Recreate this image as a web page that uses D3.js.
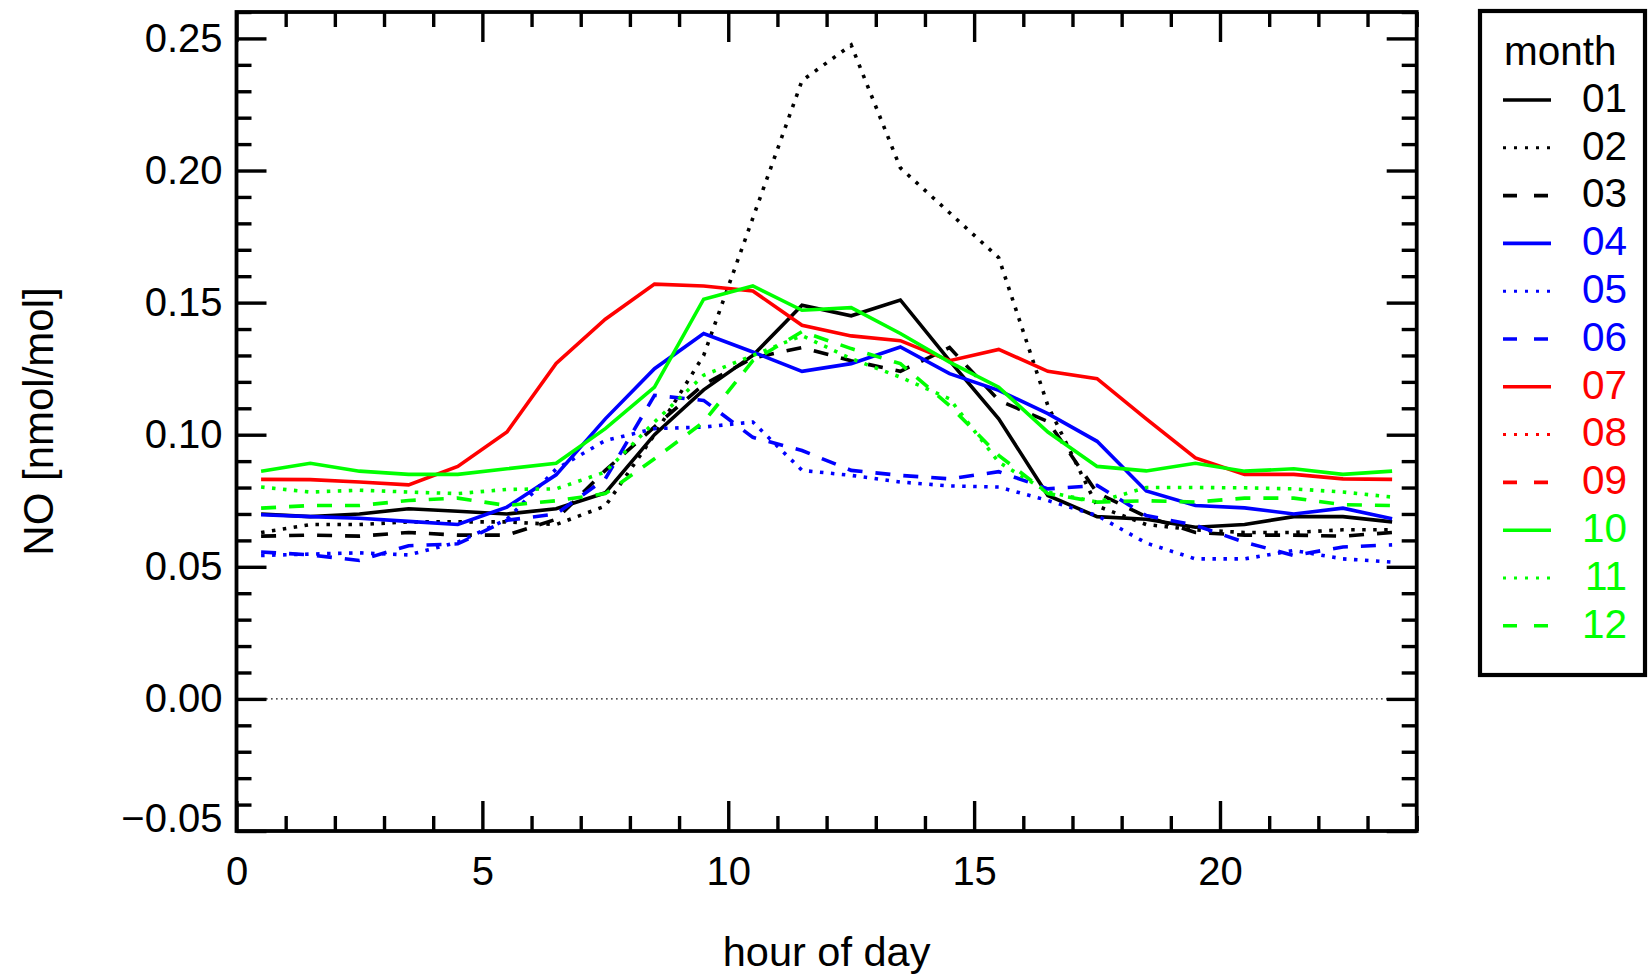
<!DOCTYPE html>
<html>
<head>
<meta charset="utf-8">
<script src="https://cdn.jsdelivr.net/npm/d3@7"></script>
<style>
  html, body { margin: 0; padding: 0; background: #fff; }
  svg { display: block; }
  text { font-family: "Liberation Sans", Arial, Helvetica, sans-serif; }
</style>
</head>
<body>
<svg id="chart" width="1648" height="976"></svg>
<script>
// ---------------- data ----------------
const hours = [0.5,1.5,2.5,3.5,4.5,5.5,6.5,7.5,8.5,9.5,10.5,11.5,12.5,13.5,14.5,15.5,16.5,17.5,18.5,19.5,20.5,21.5,22.5,23.5];

const months = ["01","02","03","04","05","06","07","08","09","10","11","12"];
const monthColors = ["#000000","#000000","#000000","#0000ff","#0000ff","#0000ff","#ff0000","#ff0000","#ff0000","#00ff00","#00ff00","#00ff00"];
const monthStyles = ["solid","dotted","dashed","solid","dotted","dashed","solid","dotted","dashed","solid","dotted","dashed"];

const m01 = [0.070,0.069,0.070,0.072,0.071,0.070,0.072,0.078,0.100,0.117,0.130,0.149,0.145,0.151,0.128,0.106,0.077,0.069,0.068,0.065,0.066,0.069,0.069,0.067];
const m02 = [0.063,0.066,0.066,0.067,0.067,0.067,0.066,0.073,0.100,0.130,0.182,0.234,0.2475,0.201,0.184,0.167,0.111,0.073,0.066,0.064,0.063,0.063,0.064,0.064];
const m03 = [0.0616,0.062,0.0616,0.063,0.062,0.062,0.068,0.0865,0.103,0.119,0.129,0.133,0.128,0.124,0.133,0.113,0.105,0.078,0.069,0.063,0.062,0.062,0.0616,0.063];
const m04 = [0.0697,0.069,0.0684,0.0672,0.066,0.0726,0.0848,0.106,0.125,0.1383,0.1313,0.124,0.1269,0.1332,0.1231,0.1168,0.108,0.0975,0.0787,0.0732,0.0723,0.070,0.0722,0.0682];
const m05 = [0.0543,0.0548,0.0553,0.0545,0.0593,0.068,0.087,0.0978,0.1023,0.1029,0.1048,0.0865,0.0846,0.0821,0.0806,0.0802,0.0751,0.0694,0.059,0.053,0.053,0.0562,0.053,0.0518];
const m06 = [0.0556,0.0545,0.0524,0.058,0.0587,0.0676,0.070,0.0833,0.1149,0.113,0.099,0.094,0.0865,0.0846,0.0833,0.086,0.0795,0.0808,0.0694,0.0657,0.0593,0.0543,0.0575,0.0583];
const m07 = [0.0831,0.083,0.0821,0.081,0.088,0.101,0.127,0.1437,0.157,0.1563,0.1544,0.1414,0.1374,0.1356,0.128,0.1323,0.124,0.1212,0.106,0.0912,0.085,0.085,0.0833,0.0831];
const m08 = [];
const m09 = [];
const m10 = [0.0862,0.0892,0.0862,0.085,0.085,0.0871,0.0892,0.1023,0.118,0.1513,0.1563,0.1471,0.1481,0.1383,0.1275,0.118,0.101,0.088,0.0863,0.0892,0.0862,0.0871,0.085,0.0862];
const m11 = [0.0802,0.0783,0.079,0.0783,0.0777,0.0793,0.0795,0.0859,0.1048,0.1225,0.130,0.1375,0.1288,0.1218,0.1136,0.0896,0.0783,0.0745,0.080,0.080,0.0799,0.0795,0.0783,0.0764];
const m12 = [0.0722,0.0732,0.0732,0.0751,0.076,0.0732,0.075,0.0777,0.0909,0.1048,0.128,0.139,0.1326,0.1269,0.111,0.0922,0.0777,0.0745,0.075,0.0745,0.076,0.076,0.0735,0.0732];

const xMajorTicks = [0,5,10,15,20];
const yMajorTicks = [-0.05,0.00,0.05,0.10,0.15,0.20,0.25];
const xTitle = "hour of day";
const yTitle = "NO [nmol/mol]";
const legendTitle = "month";

const series = [m01,m02,m03,m04,m05,m06,m07,m08,m09,m10,m11,m12];

// ---------------- layout ----------------
const svg = d3.select("#chart");
const L = 236.5, R = 1416.7, T = 12, B = 831;
const x = d3.scaleLinear().domain([0, 24]).range([L, R]);
const y = d3.scaleLinear().domain([-0.05, 0.26]).range([B, T]);

const xMinor = d3.range(0, 25, 1).filter(v => !xMajorTicks.includes(v));
const yMinor = d3.range(-50, 261, 10).map(v => v / 1000).filter(v => !yMajorTicks.some(t => Math.abs(t - v) < 1e-9));

const dashFor = s => s === "dotted" ? "3.5,7.5" : (s === "dashed" ? "15,13" : null);

// zero reference line
svg.append("path")
  .datum([hours[0], hours[hours.length - 1]])
  .attr("d", d => d3.line()(d.map(h => [x(h), y(0)])))
  .attr("stroke", "#000").attr("stroke-width", 1.3)
  .attr("stroke-dasharray", "1.5,3.5").attr("fill", "none");

// series lines
const line = d3.line().x((d, i) => x(hours[i])).y(d => y(d));
series.forEach((vals, i) => {
  if (!vals.length) return;
  svg.append("path")
    .datum(vals)
    .attr("d", line)
    .attr("fill", "none")
    .attr("stroke", monthColors[i])
    .attr("stroke-width", 3.6)
    .attr("stroke-linejoin", "miter")
    .attr("stroke-dasharray", dashFor(monthStyles[i]));
});

// axes
function styleAxis(g) {
  g.select(".domain").remove();
  g.selectAll(".tick line").attr("stroke", "#000").attr("stroke-width", 3.4);
  g.selectAll("text").attr("font-size", 40).attr("fill", "#000")
    .attr("font-family", "'Liberation Sans', Arial, sans-serif");
}

// bottom
svg.append("g").attr("transform", `translate(0,${B})`)
  .call(d3.axisBottom(x).tickValues(xMajorTicks).tickSize(-30).tickSizeOuter(0).tickPadding(26).tickFormat(d3.format("d")))
  .call(styleAxis);
svg.append("g").attr("transform", `translate(0,${B})`)
  .call(d3.axisBottom(x).tickValues(xMinor).tickSize(-15).tickSizeOuter(0).tickFormat(""))
  .call(styleAxis);
// top
svg.append("g").attr("transform", `translate(0,${T})`)
  .call(d3.axisTop(x).tickValues(xMajorTicks).tickSize(-30).tickSizeOuter(0).tickFormat(""))
  .call(styleAxis);
svg.append("g").attr("transform", `translate(0,${T})`)
  .call(d3.axisTop(x).tickValues(xMinor).tickSize(-15).tickSizeOuter(0).tickFormat(""))
  .call(styleAxis);
// left
const leftG = svg.append("g").attr("transform", `translate(${L},0)`)
  .call(d3.axisLeft(y).tickValues(yMajorTicks).tickSize(-30).tickSizeOuter(0).tickPadding(14).tickFormat(d3.format(".2f")))
  .call(styleAxis);
leftG.selectAll(".tick text").filter(d => d === yMajorTicks[0]).attr("y", -12);
svg.append("g").attr("transform", `translate(${L},0)`)
  .call(d3.axisLeft(y).tickValues(yMinor).tickSize(-15).tickSizeOuter(0).tickFormat(""))
  .call(styleAxis);
// right
svg.append("g").attr("transform", `translate(${R},0)`)
  .call(d3.axisRight(y).tickValues(yMajorTicks).tickSize(-30).tickSizeOuter(0).tickFormat(""))
  .call(styleAxis);
svg.append("g").attr("transform", `translate(${R},0)`)
  .call(d3.axisRight(y).tickValues(yMinor).tickSize(-15).tickSizeOuter(0).tickFormat(""))
  .call(styleAxis);

// frame
svg.append("rect").attr("x", L).attr("y", T).attr("width", R - L).attr("height", B - T)
  .attr("fill", "none").attr("stroke", "#000").attr("stroke-width", 3.8);

// titles
svg.append("text").attr("x", (L + R) / 2).attr("y", 966).attr("text-anchor", "middle")
  .attr("font-size", 41.5).text(xTitle);
svg.append("text").attr("transform", `translate(53,${(T + B) / 2}) rotate(-90)`)
  .attr("text-anchor", "middle").attr("font-size", 42).text(yTitle);

// legend
const lg = svg.append("g");
lg.append("rect").attr("x", 1480).attr("y", 11).attr("width", 165).attr("height", 664)
  .attr("fill", "#fff").attr("stroke", "#000").attr("stroke-width", 4.2);
lg.append("text").attr("x", 1504).attr("y", 65).attr("font-size", 40.5).text(legendTitle);
months.forEach((m, i) => {
  const cy = 97.5 + i * 47.8;
  const st = monthStyles[i];
  lg.append("line").attr("x1", 1503).attr("x2", 1551).attr("y1", cy + 2.5).attr("y2", cy + 2.5)
    .attr("stroke", monthColors[i])
    .attr("stroke-width", st === "dotted" ? 3 : 3.6)
    .attr("stroke-dasharray", st === "dotted" ? "3,8" : (st === "dashed" ? "14,17" : null));
  lg.append("text").attr("x", 1627).attr("y", cy + 14.3).attr("text-anchor", "end")
    .attr("font-size", 40.5).attr("fill", monthColors[i]).text(m);
});
</script>
</body>
</html>
